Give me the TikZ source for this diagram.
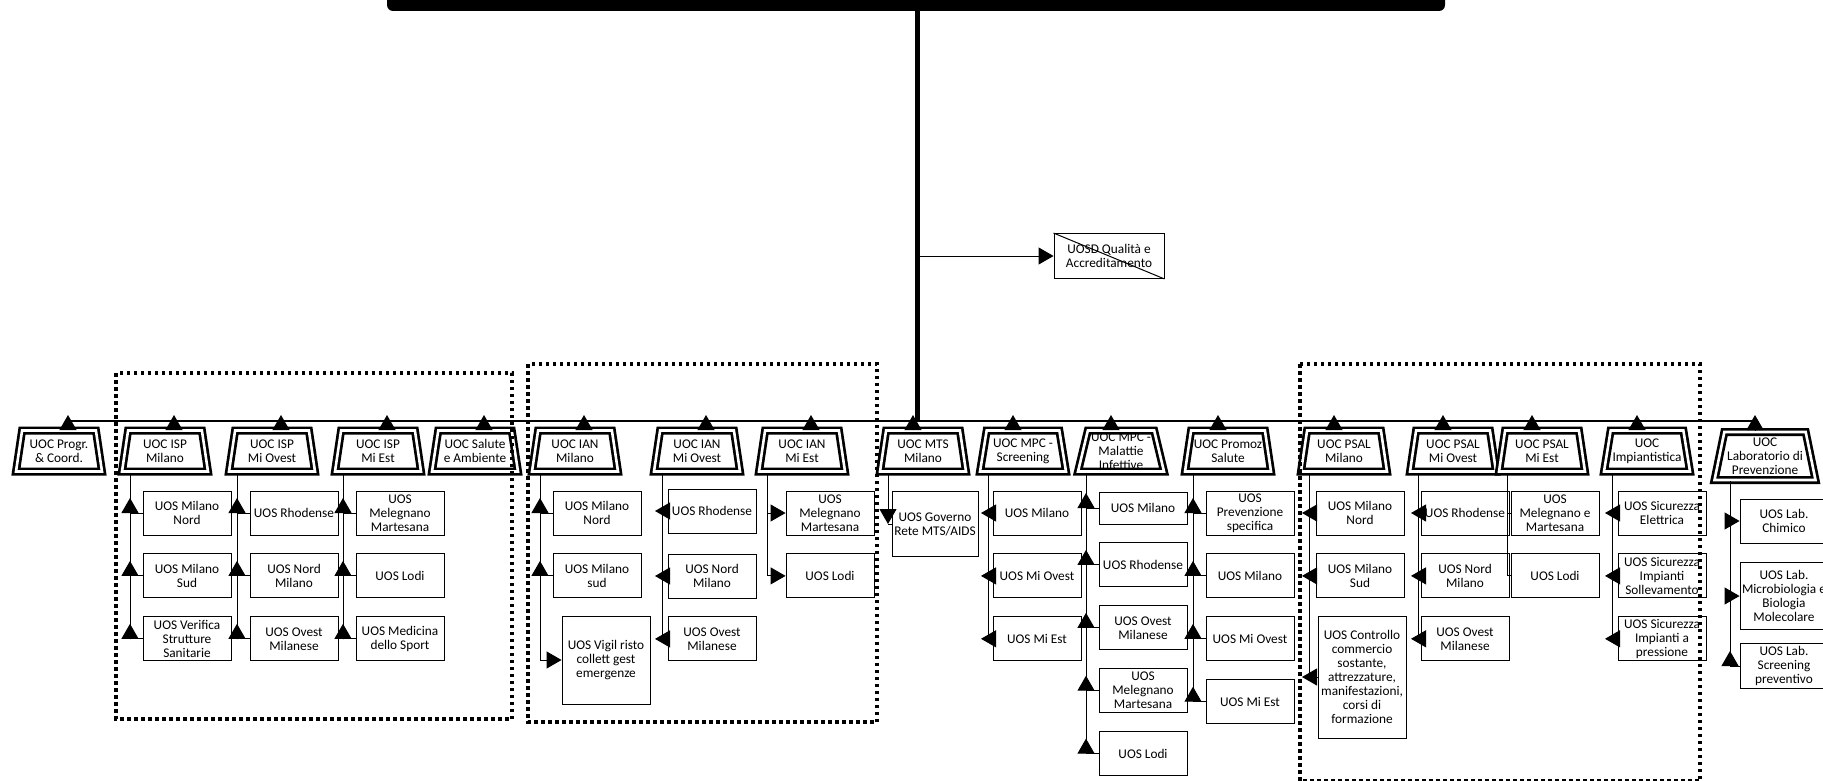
\documentclass[tikz,border=0pt]{standalone}
\usepackage{fontspec}
\setmainfont{Carlito}
\usepackage{tikz}
\usetikzlibrary{arrows.meta,calc,positioning,shapes.geometric}
\tikzset{
  uoc/.style = {trapezium, trapezium left angle=75, trapezium right angle=75,
  trapezium stretches body, draw=black, line width=2.7pt, double=white,
  double distance=2.6pt, fill=white, minimum width=86pt, minimum height=41pt,
  inner sep=0pt, align=center},
  uos/.style = {rectangle, draw=black, line width=0.9pt, fill=white,
  minimum width=88pt, minimum height=44pt, inner sep=0pt, align=center},
  topbar/.style = {rectangle, fill=black, rounded corners=6pt,
  minimum width=1058pt, minimum height=22pt, inner sep=0pt}
}

\begin{document}
\begin{tikzpicture}[x=1pt,y=-1pt,node distance=18pt,
    >={Triangle[length=15pt,width=17pt]},
    every node/.style={font=\fontsize{13.3}{14}\selectfont},
    conn/.style={draw, line width=1pt},
    grp/.style={draw, line width=3.5pt, dash pattern=on 3.5pt off 3.5pt}]
  \useasboundingbox (0,0) rectangle (1823,781);

  % vertice
  \node[topbar] (top) at (916,0) {};
  \coordinate (bus) at (917,421);
  \draw[line width=5pt] (top.south -| bus) -- (bus);
  \node[uos, minimum width=110pt, minimum height=45pt] (qual) at (1109,256) {UOSD Qualità e\\Accreditamento};
  \draw[conn] (qual.north west) -- (qual.south east);
  \draw[conn,->] (bus |- qual.west) -- (qual.west);

  % UOC
  \node[uoc] (progr) at (59,451) {UOC Progr.\\\& Coord.};
  \node[uoc] (ispA) at (165,451) {UOC ISP\\Milano};
  \node[uoc] (ispB) at (272,451) {UOC ISP\\Mi Ovest};
  \node[uoc] (ispC) at (378,451) {UOC ISP\\Mi Est};
  \node[uoc] (sal) at (475,451) {UOC Salute\\e Ambiente};
  \node[uoc] (ianA) at (575,451) {UOC IAN\\Milano};
  \node[uoc] (ianB) at (697,451) {UOC IAN\\Mi Ovest};
  \node[uoc] (ianC) at (802,451) {UOC IAN\\Mi Est};
  \node[uoc] (mts) at (923,451) {UOC MTS\\Milano};
  \node[uoc] (mpcA) at (1023,451) {UOC MPC -\\Screening};
  \node[uoc] (mpcB) at (1121,451) {UOC MPC -\\Malattie\\Infettive};
  \node[uoc] (prom) at (1228,451) {UOC Promoz\\Salute};
  \node[uoc] (psalA) at (1344,451) {UOC PSAL\\Milano};
  \node[uoc] (psalB) at (1453,451) {UOC PSAL\\Mi Ovest};
  \node[uoc] (psalC) at (1542,451) {UOC PSAL\\Mi Est};
  \node[uoc] (imp) at (1647,451) {UOC\\Impiantistica};
  \node[uoc, minimum width=101pt, minimum height=48pt] (lab) at (1765,456) {UOC\\Laboratorio di\\Prevenzione};

  % linea orizzontale
  \draw[conn, line width=1.3pt] ($(progr.north |- bus)+(9,0)$) -- ($(lab.north |- bus)+(-10,0)$);
  \foreach \u in {progr,ispA,ispB,ispC,sal,ianA,ianB,ianC}
    \draw[conn,->] ($(\u.north)+(9,0)$) -- ($(\u.north |- bus)+(9,-6)$);
  \foreach \u in {mts,mpcA,mpcB,prom,psalA,psalB,psalC,imp,lab}
    \draw[conn,->] ($(\u.north)+(-10,0)$) -- ($(\u.north |- bus)+(-10,-6)$);

  % UOS
  \node[uos] (ispA1) at (187,513) {UOS Milano\\Nord};
  \node[uos, below=of ispA1] (ispA2) {UOS Milano\\Sud};
  \node[uos, below=of ispA2] (ispA3) {UOS Verifica\\Strutture\\Sanitarie};
  \node[uos] (ispB1) at (294,513) {UOS Rhodense};
  \node[uos, below=of ispB1] (ispB2) {UOS Nord\\Milano};
  \node[uos, below=of ispB2] (ispB3) {UOS Ovest\\Milanese};
  \node[uos] (ispC1) at (400,513) {UOS\\Melegnano\\Martesana};
  \node[uos, below=of ispC1] (ispC2) {UOS Lodi};
  \node[uos, below=of ispC2] (ispC3) {UOS Medicina\\dello Sport};

  \node[uos] (ianA1) at (597,513) {UOS Milano\\Nord};
  \node[uos, below=of ianA1] (ianA2) {UOS Milano\\sud};
  \node[uos, minimum height=88pt] (ianA3) at (606,660) {UOS Vigil risto\\collett gest\\emergenze};
  \node[uos] (ianB1) at (712,511) {UOS Rhodense};
  \node[uos] (ianB2) at (712,576) {UOS Nord\\Milano};
  \node[uos, below=of ianB2] (ianB3) {UOS Ovest\\Milanese};
  \node[uos] (ianC1) at (830,513) {UOS\\Melegnano\\Martesana};
  \node[uos, below=of ianC1] (ianC2) {UOS Lodi};

  \node[uos, minimum width=86pt, minimum height=65pt] (mts1) at (935,524) {UOS Governo\\Rete MTS/AIDS};

  \node[uos] (mpcA1) at (1037,513) {UOS Milano};
  \node[uos, below=of mpcA1] (mpcA2) {UOS Mi Ovest};
  \node[uos, below=of mpcA2] (mpcA3) {UOS Mi Est};
  \node[uos, minimum height=32pt] (mpcB1) at (1143,508) {UOS Milano};
  \node[uos, below=of mpcB1] (mpcB2) {UOS Rhodense};
  \node[uos, below=of mpcB2] (mpcB3) {UOS Ovest\\Milanese};
  \node[uos, below=of mpcB3] (mpcB4) {UOS\\Melegnano\\Martesana};
  \node[uos, below=of mpcB4] (mpcB5) {UOS Lodi};
  \node[uos] (prom1) at (1250,513) {UOS\\Prevenzione\\specifica};
  \node[uos, below=of prom1] (prom2) {UOS Milano};
  \node[uos, below=of prom2] (prom3) {UOS Mi Ovest};
  \node[uos, below=of prom3] (prom4) {UOS Mi Est};

  \node[uos] (psalA1) at (1360,513) {UOS Milano\\Nord};
  \node[uos, below=of psalA1] (psalA2) {UOS Milano\\Sud};
  \node[uos, minimum height=122pt] (psalA3) at (1362,677) {UOS Controllo\\commercio\\sostante,\\attrezzature,\\manifestazioni,\\corsi di\\formazione};
  \node[uos] (psalB1) at (1465,513) {UOS Rhodense};
  \node[uos, below=of psalB1] (psalB2) {UOS Nord\\Milano};
  \node[uos, below=of psalB2] (psalB3) {UOS Ovest\\Milanese};
  \node[uos] (psalC1) at (1555,513) {UOS\\Melegnano e\\Martesana};
  \node[uos, below=of psalC1] (psalC2) {UOS Lodi};
  \node[uos] (imp1) at (1662,513) {UOS Sicurezza\\Elettrica};
  \node[uos, below=of imp1] (imp2) {UOS Sicurezza\\Impianti\\Sollevamento};
  \node[uos, below=of imp2] (imp3) {UOS Sicurezza\\Impianti a\\pressione};

  \node[uos] (lab1) at (1784,521) {UOS Lab.\\Chimico};
  \node[uos, minimum height=67pt] (lab2) at (1784,596) {UOS Lab.\\Microbiologia e\\Biologia\\Molecolare};
  \node[uos, minimum height=45pt] (lab3) at (1784,666) {UOS Lab.\\Screening\\preventivo};

  % collegamenti
  \foreach \p in {ispA,ispB,ispC,ianA,ianB,ianC,mts,mpcA,mpcB,prom,psalA,psalB,psalC,imp,lab}
    \coordinate (\p t) at ($(\p.south)+(-35,0)$);
  \draw[conn] (ispAt) -- (ispAt |- ispA3.west);
  \draw[conn] (ispBt) -- (ispBt |- ispB3.west);
  \draw[conn] (ispCt) -- (ispCt |- ispC3.west);
  \draw[conn] (ianAt) -- (ianAt |- ianA3.west);
  \draw[conn] (ianBt) -- (ianBt |- ianB3.west);
  \draw[conn] (ianCt) -- (ianCt |- ianC2.west);
  \draw[conn,->] (mtst) -- (mtst |- mts1.west);
  \draw[conn] (mtst |- mts1.west) -- (mts1.west);
  \draw[conn] (mpcAt) -- (mpcAt |- mpcA3.west);
  \draw[conn] (mpcBt) -- (mpcBt |- mpcB5.west);
  \draw[conn] (promt) -- (promt |- prom4.west);
  \draw[conn] (psalAt) -- (psalAt |- psalA3.west);
  \draw[conn] (psalBt) -- (psalBt |- psalB3.west);
  \draw[conn] (psalCt) -- (psalCt |- psalC2.west);
  \draw[conn] (impt) -- (impt |- imp3.west);
  \draw[conn] (labt) -- (labt |- lab3.west);

  \foreach \c/\t in {ispA1/ispAt,ispA2/ispAt,ispA3/ispAt,ispB1/ispBt,ispB2/ispBt,ispB3/ispBt,
      ispC1/ispCt,ispC2/ispCt,ispC3/ispCt,ianA1/ianAt,ianA2/ianAt,mpcB1/mpcBt,mpcB2/mpcBt,
      mpcB3/mpcBt,mpcB4/mpcBt,mpcB5/mpcBt,prom1/promt,prom2/promt,prom3/promt,prom4/promt,lab3/labt}
    \draw[conn,->] (\c.west) -- (\c.west -| \t) -- ++(0,-15);
  \foreach \c/\t in {ianA3/ianAt,ianC1/ianCt,ianC2/ianCt,lab1/labt,lab2/labt}
    \draw[conn,->] (\c.west -| \t) -- (\c.west);
  \foreach \c/\t in {ianB1/ianBt,ianB2/ianBt,ianB3/ianBt,mpcA1/mpcAt,mpcA2/mpcAt,mpcA3/mpcAt,
      psalA1/psalAt,psalA2/psalAt,psalA3/psalAt,psalB1/psalBt,psalB2/psalBt,psalB3/psalBt,
      imp1/impt,imp2/impt,imp3/impt}
    \draw[conn,->] (\c.west) -- ($(\c.west -| \t)+(-7,0)$);
  \foreach \c in {psalC1,psalC2}
    \draw[conn] (psalCt |- \c.west) -- (\c.west);

  % raggruppamenti
  \draw[grp] (116,373) rectangle (512,719);
  \draw[grp] (528,364) rectangle (877,722);
  \draw[grp] (1300,364) rectangle (1700,781);
\end{tikzpicture}
\end{document}
